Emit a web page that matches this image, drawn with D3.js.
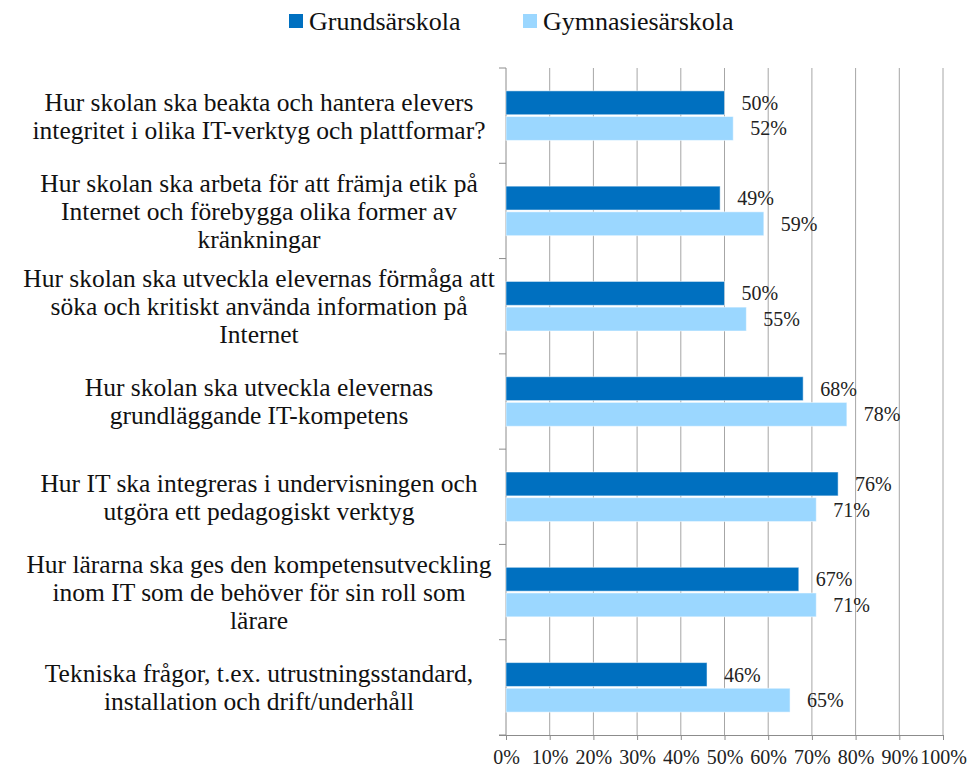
<!DOCTYPE html>
<html>
<head>
<meta charset="utf-8">
<script src="https://cdn.jsdelivr.net/npm/d3@7"></script>
<style>
  body { margin: 0; background: #fff; }
  svg text { font-family: "Liberation Serif", "DejaVu Serif", serif; }
  .grid line { stroke: #a6a6a6; }
  .axis path, .axis line { stroke: #8c8c8c; }
</style>
</head>
<body>
<svg width="970" height="769"></svg>
<script>
const categories = [
  ['Hur skolan ska beakta och hantera elevers', 'integritet i olika IT-verktyg och plattformar?'],
  ['Hur skolan ska arbeta för att främja etik på', 'Internet och förebygga olika former av', 'kränkningar'],
  ['Hur skolan ska utveckla elevernas förmåga att', 'söka och kritiskt använda information på', 'Internet'],
  ['Hur skolan ska utveckla elevernas', 'grundläggande IT-kompetens'],
  ['Hur IT ska integreras i undervisningen och', 'utgöra ett pedagogiskt verktyg'],
  ['Hur lärarna ska ges den kompetensutveckling', 'inom IT som de behöver för sin roll som', 'lärare'],
  ['Tekniska frågor, t.ex. utrustningsstandard,', 'installation och drift/underhåll']
];
const seriesNames = ['Grundsärskola', 'Gymnasiesärskola'];
const grundsarskola = [50, 49, 50, 68, 76, 67, 46];
const gymnasiesarskola = [52, 59, 55, 78, 71, 71, 65];
const colors = ['#0070c0', '#9bd7ff'];
const xTicks = [0, 10, 20, 30, 40, 50, 60, 70, 80, 90, 100];

const values = [grundsarskola, gymnasiesarskola];
const svg = d3.select('svg'),
  margin = { top: 68, left: 506, right: 27, bottom: 34 },
  width = 970 - margin.left - margin.right,
  height = 769 - margin.top - margin.bottom,
  g = svg.append('g').attr('transform', 'translate(' + margin.left + ',' + margin.top + ')');

const x = d3.scaleLinear().domain([0, 100]).range([0, width]);
const y0 = d3.scaleBand().domain(d3.range(categories.length)).range([0, height])
  .paddingInner(0.48).paddingOuter(0.24);
const y1 = d3.scaleBand().domain(d3.range(seriesNames.length)).range([0, y0.bandwidth()])
  .paddingInner(0.07);

// vertical gridlines
g.append('g').attr('class', 'grid')
  .selectAll('line').data(xTicks.slice(1)).enter().append('line')
  .attr('x1', d => x(d)).attr('x2', d => x(d))
  .attr('y1', 0).attr('y2', height);

// bottom axis
g.append('g')
  .attr('class', 'axis')
  .attr('transform', 'translate(0,' + height + ')')
  .call(d3.axisBottom(x).tickValues(xTicks).tickFormat(d => d + '%').tickSizeInner(5).tickSizeOuter(0))
  .attr('font-family', null)
  .attr('font-size', null)
  .call(a => a.select('.domain').attr('d', 'M-7,0.5H' + width))
  .call(a => a.selectAll('text').attr('dy', '1.05em').attr('fill', '#222').style('font-size', '20px'));

// left axis with ticks at category boundaries
const bounds = d3.range(categories.length + 1).map(i => i * y0.step());
const left = g.append('g').attr('class', 'axis');
left.append('line').attr('x1', 0).attr('x2', 0).attr('y1', 0).attr('y2', height);
left.selectAll('.tk').data(bounds).enter().append('line')
  .attr('x1', -7).attr('x2', 0).attr('y1', d => d).attr('y2', d => d);

// bars
const group = g.selectAll('.cat')
  .data(categories.map((c, i) => i))
  .enter().append('g')
  .attr('class', 'cat')
  .attr('transform', i => 'translate(0,' + y0(i) + ')');

group.selectAll('rect')
  .data(i => seriesNames.map((s, j) => ({ j, v: values[j][i] })))
  .enter().append('rect')
  .attr('x', 0)
  .attr('y', d => y1(d.j))
  .attr('width', d => x(d.v))
  .attr('height', y1.bandwidth())
  .attr('fill', d => colors[d.j])
  .attr('stroke', '#ffffff')
  .attr('stroke-opacity', 0.5);

group.selectAll('.lbl')
  .data(i => seriesNames.map((s, j) => ({ j, v: values[j][i] })))
  .enter().append('text')
  .attr('x', d => x(d.v) + 17)
  .attr('y', d => y1(d.j) + y1.bandwidth() / 2)
  .attr('dy', '0.35em')
  .style('font-size', '20px')
  .attr('fill', '#222')
  .text(d => d.v + '%');

// category labels
const labelX = 259 - margin.left, lineH = 28;
g.selectAll('.catlbl')
  .data(categories)
  .enter().append('text')
  .attr('class', 'catlbl')
  .attr('text-anchor', 'middle')
  .style('font-size', '25.5px')
  .attr('fill', '#111')
  .each(function (lines, i) {
    const cy = y0(i) + y0.bandwidth() / 2;
    d3.select(this).selectAll('tspan').data(lines).enter().append('tspan')
      .attr('x', labelX)
      .attr('y', (l, k) => cy + (k - (lines.length - 1) / 2) * lineH)
      .attr('dy', '0.35em')
      .text(l => l);
  });

// legend
const legendX = [289, 523];
const legend = svg.append('g').selectAll('g').data(seriesNames).enter().append('g')
  .attr('transform', (d, i) => 'translate(' + legendX[i] + ',14)');
legend.append('rect').attr('width', 14).attr('height', 14).attr('fill', (d, i) => colors[i]);
legend.append('text').attr('x', 20).attr('y', 7).attr('dy', '0.35em')
  .style('font-size', '26px').attr('fill', '#111').text(d => d);
</script>
</body>
</html>
